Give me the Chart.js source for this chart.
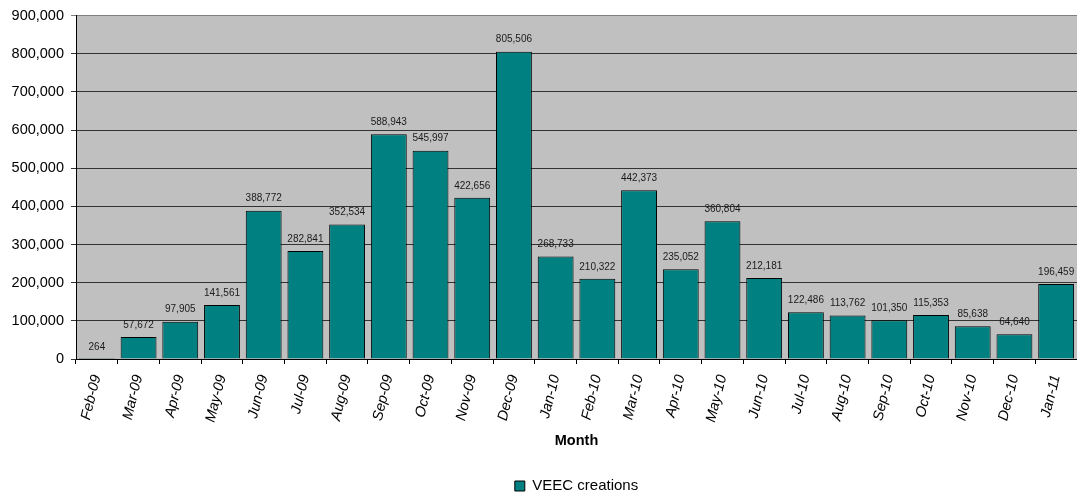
<!DOCTYPE html>
<html>
<head>
<meta charset="utf-8">
<title>VEEC creations</title>
<script src="https://cdn.jsdelivr.net/npm/chart.js@4/dist/chart.umd.min.js"></script>
<style>
    body { margin: 0; background: #fff; }
    canvas { display: block; }
</style>
</head>
<body>
<canvas id="veec-chart" width="1077" height="497"></canvas>
<script>
// Meses e quantidade de certificados criados
const months = [
    'Feb-09', 'Mar-09', 'Apr-09', 'May-09', 'Jun-09', 'Jul-09', 'Aug-09', 'Sep-09',
    'Oct-09', 'Nov-09', 'Dec-09', 'Jan-10', 'Feb-10', 'Mar-10', 'Apr-10', 'May-10',
    'Jun-10', 'Jul-10', 'Aug-10', 'Sep-10', 'Oct-10', 'Nov-10', 'Dec-10', 'Jan-11'
];
const veecCreations = [
    264, 57672, 97905, 141561, 388772, 282841, 352534, 588943,
    545997, 422656, 805506, 268733, 210322, 442373, 235052, 360804,
    212181, 122486, 113762, 101350, 115353, 85638, 64640, 196459
];
const yMax = 900000;
const yStep = 100000;

const fontFamily = '"Liberation Sans", Arial, sans-serif';

function formatNumber(value) {
    return Number(value).toLocaleString('en-US');
}

// Fundo cinza da área de plotagem
const plotBackground = {
    id: 'plotBackground',
    beforeDraw(chart) {
        const { ctx, chartArea } = chart;
        ctx.save();
        ctx.fillStyle = '#c0c0c0';
        ctx.fillRect(chartArea.left, chartArea.top, chartArea.right - chartArea.left, chartArea.bottom - chartArea.top);
        ctx.restore();
    }
};

// Rótulos de valor acima de cada barra
const barValueLabels = {
    id: 'barValueLabels',
    afterDatasetsDraw(chart) {
        const { ctx } = chart;
        const meta = chart.getDatasetMeta(0);
        ctx.save();
        ctx.font = '10px ' + fontFamily;
        ctx.fillStyle = '#1a1a1a';
        ctx.textAlign = 'center';
        ctx.textBaseline = 'middle';
        meta.data.forEach((bar, i) => {
            ctx.fillText(formatNumber(veecCreations[i]), bar.x, bar.y - 12);
        });
        ctx.restore();
    }
};

const ctx = document.getElementById('veec-chart').getContext('2d');

new Chart(ctx, {
    type: 'bar',
    data: {
        labels: months,
        datasets: [{
            label: 'VEEC creations',
            data: veecCreations,
            backgroundColor: '#008080',
            borderColor: '#000',
            borderWidth: 1,
            barPercentage: 0.86,
            categoryPercentage: 1.0
        }]
    },
    options: {
        responsive: false,
        devicePixelRatio: 1,
        animation: false,
        layout: {
            padding: { top: 15, right: 0, bottom: 0, left: 0 }
        },
        plugins: {
            legend: {
                position: 'bottom',
                fullSize: false,
                maxHeight: 23,
                labels: {
                    color: '#000',
                    boxWidth: 10,
                    boxHeight: 10,
                    padding: 4.5,
                    font: { family: fontFamily, size: 15 }
                }
            },
            tooltip: { enabled: false }
        },
        scales: {
            x: {
                grid: {
                    offset: true,
                    drawOnChartArea: false,
                    drawTicks: true,
                    tickLength: 5,
                    color: '#000'
                },
                border: { color: '#000' },
                ticks: {
                    color: '#000',
                    minRotation: 76,
                    maxRotation: 76,
                    autoSkip: false,
                    padding: 9,
                    font: { family: fontFamily, size: 14.5, style: 'italic' }
                },
                title: {
                    display: true,
                    text: 'Month',
                    color: '#000',
                    padding: { top: 0, bottom: 24 },
                    font: { family: fontFamily, size: 14.5, weight: 'bold' }
                },
                afterFit(scale) {
                    scale.height = 115;
                    scale.paddingLeft = 0;
                    scale.paddingRight = 0;
                }
            },
            y: {
                min: 0,
                max: yMax,
                grid: {
                    drawTicks: true,
                    tickLength: 5,
                    color: (c) => (c.tick && c.tick.value === yMax ? '#808080' : '#333')
                },
                border: { color: '#000' },
                ticks: {
                    stepSize: yStep,
                    color: '#000',
                    padding: 7,
                    font: { family: fontFamily, size: 14.5 },
                    callback: (value) => formatNumber(value)
                },
                afterFit(scale) {
                    scale.width = 76;
                }
            }
        }
    },
    plugins: [plotBackground, barValueLabels]
});
</script>
</body>
</html>
